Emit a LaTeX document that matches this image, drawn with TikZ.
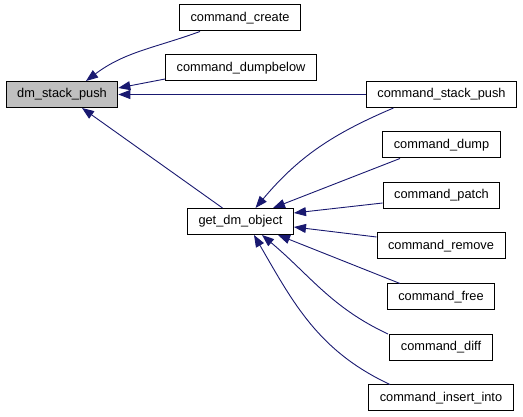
\documentclass[tikz,border=0pt]{standalone}
\usepackage{fontspec}
\setmainfont{Liberation Sans}
\usetikzlibrary{arrows.meta}
\definecolor{callblue}{HTML}{191970}
\definecolor{curgrey}{HTML}{BFBFBF}
\begin{document}
\begin{tikzpicture}[x=1pt, y=1pt, >={Triangle[length=12pt,width=9pt]},
        font=\fontsize{12.8}{15}\selectfont]
        \tikzset{box/.style={draw, line width=1pt, inner xsep=11pt, minimum height=26pt, anchor=center},
                 calls/.style={->, draw=callblue, line width=0.9pt}}
        \useasboundingbox (0,0) rectangle (523,417);
        \node[box, fill=curgrey] (push) at (62,322.5) {dm\_stack\_push};
        \node[box] (create) at (240,399) {command\_create};
        \node[box] (dumpbelow) at (241,349) {command\_dumpbelow};
        \node[box] (stackpush) at (441.5,322.5) {command\_stack\_push};
        \node[box] (dump) at (441.5,272) {command\_dump};
        \node[box] (patch) at (441.5,221.5) {command\_patch};
        \node[box] (getobj) at (240.5,195.5) {get\_dm\_object};
        \node[box] (remove) at (441,171) {command\_remove};
        \node[box] (free) at (441,120) {command\_free};
        \node[box] (diff) at (441,69.5) {command\_diff};
        \node[box] (insert) at (441,19) {command\_insert\_into};
        % callers of dm_stack_push
        \draw[calls] ([xshift=-40pt]create.south) to[out=200, in=37] ([xshift=24pt]push.north);
        \draw[calls] ([yshift=-11pt]dumpbelow.west) -- ([yshift=6.5pt]push.east);
        \draw[calls] (stackpush.west) -- (push.east);
        \draw[calls] ([xshift=-18pt]getobj.north) -- ([xshift=20pt]push.south);
        % callers of get_dm_object
        \draw[calls] ([xshift=-48pt]stackpush.south) to[out=203, in=50] ([xshift=15pt]getobj.north);
        \draw[calls] ([xshift=-41.5pt]dump.south) -- ([xshift=32.5pt]getobj.north);
        \draw[calls] ([yshift=-7.5pt]patch.west) -- ([yshift=8.5pt]getobj.east);
        \draw[calls] ([yshift=9pt]remove.west) -- ([yshift=-5.5pt]getobj.east);
        \draw[calls] ([xshift=-41pt]free.north) -- ([xshift=37.5pt]getobj.south);
        \draw[calls] ([xshift=-53pt]diff.north) to[out=155, in=-40] ([xshift=21.5pt]getobj.south);
        \draw[calls] ([xshift=-51pt]insert.north) to[out=155, in=-60] ([xshift=13.5pt]getobj.south);
    \end{tikzpicture}
\end{document}
